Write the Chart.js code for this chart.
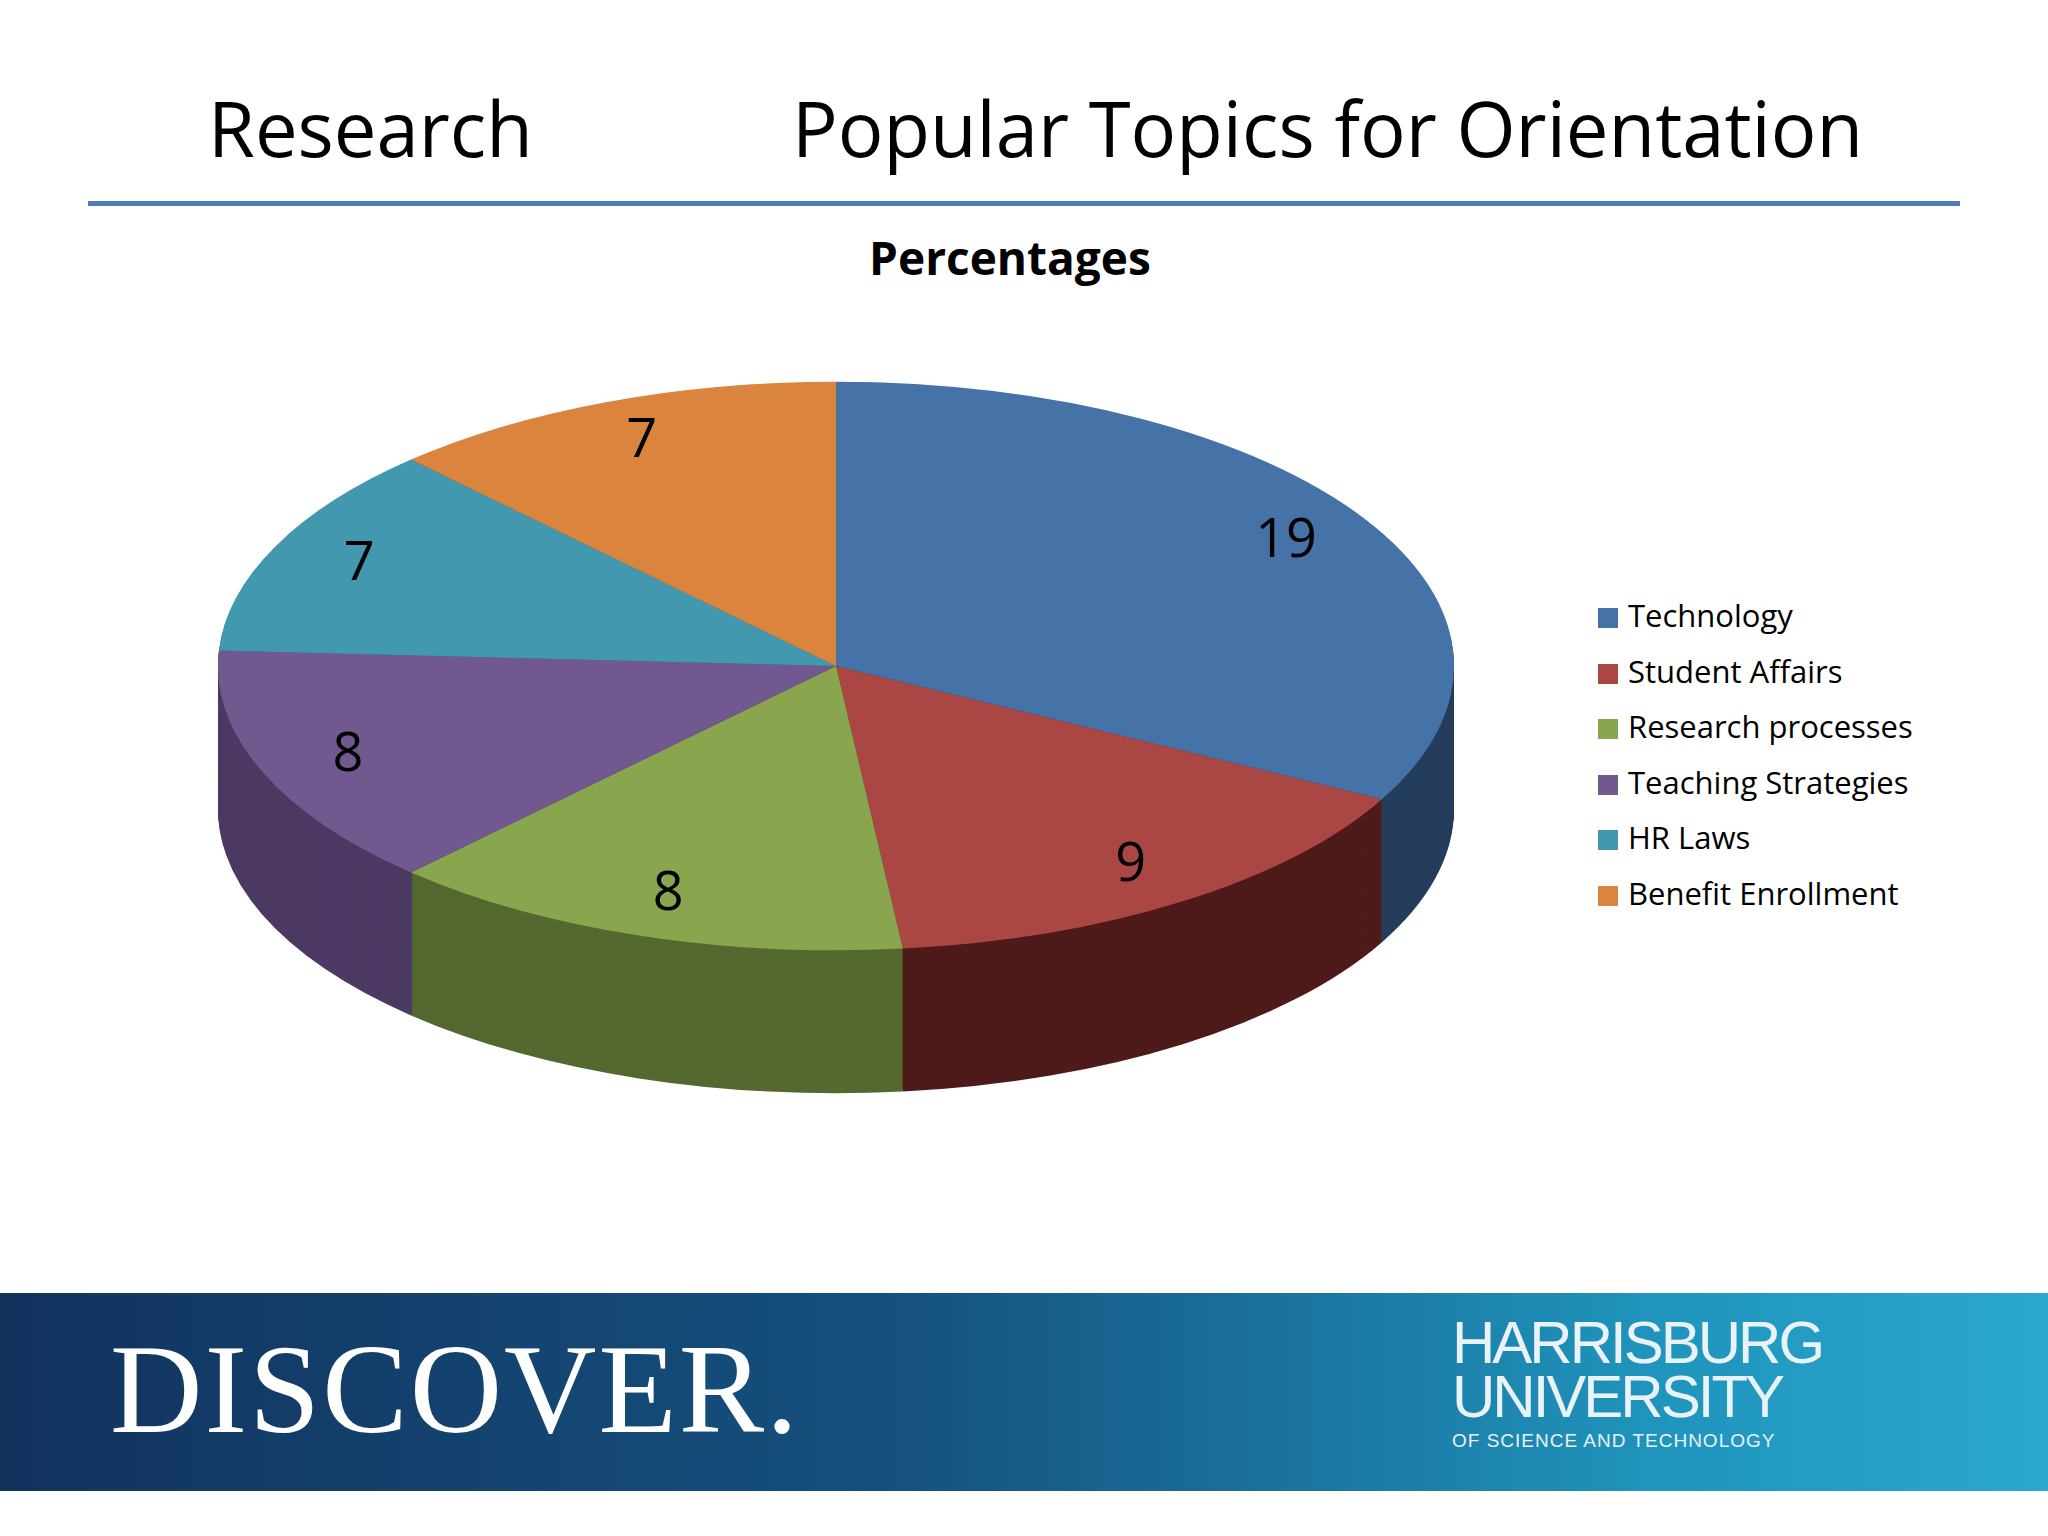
<!DOCTYPE html>
<html><head><meta charset="utf-8">
<script src="https://cdn.jsdelivr.net/npm/chart.js@4/dist/chart.umd.min.js"></script>
<style>
body{margin:0;width:2048px;height:1536px;background:#fff;position:relative;overflow:hidden;font-family:"Open Sans","Noto Sans",sans-serif}
.t{position:absolute;top:76px;font-size:76px;color:#000}
#line{position:absolute;left:88px;top:201px;width:1872px;height:5px;background:#4A7EBB}
#sub{position:absolute;top:226px;left:0;width:2020px;text-align:center;font-size:46px;font-weight:bold}
#c{position:absolute;left:216px;top:46px}
#legend{position:absolute;left:1598px;top:588px;font-size:31px;line-height:55.5px}
#legend span{display:inline-block;width:20px;height:20px;margin-right:10px;vertical-align:-1px}
#band{position:absolute;left:0;top:1293px;width:2048px;height:198px;background:linear-gradient(90deg,#12325e 0%,#15527f 45%,#1f93bb 80%,#2aa8cf 100%)}
#disc{position:absolute;left:110px;top:1316px;font-family:"Liberation Serif",serif;font-size:128px;color:#fff;letter-spacing:2px}
#hu{position:absolute;left:1452px;top:1316px;color:#e8f2f7;font-size:60px;line-height:54px;letter-spacing:-3px;font-family:"Liberation Sans Narrow","Liberation Sans",sans-serif}
#hu small{font-size:19px;letter-spacing:1px;line-height:34px;display:block}
</style></head><body>
<div class="t" style="left:208px">Research</div>
<div class="t" style="left:792px">Popular Topics for Orientation</div>
<div id="line"></div>
<div id="sub">Percentages</div>
<canvas id="c" width="1240" height="1240" style="width:1240px;height:1240px"></canvas>
<div id="legend"></div>
<div id="band"></div>
<div id="disc">DISCOVER.</div>
<div id="hu">HARRISBURG<br>UNIVERSITY<small>OF SCIENCE AND TECHNOLOGY</small></div>
<script>
const categories = ["Technology", "Student Affairs", "Research processes", "Teaching Strategies", "HR Laws", "Benefit Enrollment"];
const values = [19, 9, 8, 8, 7, 7];
const colors = ["#4572A7", "#AA4643", "#89A54E", "#71588F", "#4198AF", "#DB843D"];
const sideColors = ["#253d5c", "#4e1b1a", "#55682f", "#4d3a63", "#2a6678", "#8f5225"];

const K = 0.46;
const DEPTH = 143;

document.getElementById("legend").innerHTML = categories.map((c, i) =>
  `<div><span style="background:${colors[i]}"></span>${c}</div>`).join("");

const squash = {
  id: "squash",
  beforeDatasetsDraw(chart) {
    const ctx = chart.ctx;
    const arcs = chart.getDatasetMeta(0).data;
    const cy = arcs[0].y;
    ctx.save();
    ctx.translate(0, cy);
    ctx.scale(1, K);
    ctx.translate(0, -cy);
    // extruded side walls
    for (let d = DEPTH / K; d > 0; d -= 3) {
      arcs.forEach((a, i) => {
        ctx.beginPath();
        ctx.moveTo(a.x, a.y + d);
        ctx.arc(a.x, a.y + d, a.outerRadius, a.startAngle, a.endAngle);
        ctx.closePath();
        ctx.fillStyle = sideColors[i];
        ctx.fill();
      });
    }
  },
  afterDatasetsDraw(chart) {
    const ctx = chart.ctx;
    ctx.restore();
    const arcs = chart.getDatasetMeta(0).data;
    ctx.font = "54px 'Open Sans', sans-serif";
    ctx.fillStyle = "#000";
    ctx.textAlign = "center";
    ctx.textBaseline = "middle";
    arcs.forEach((a, i) => {
      const m = (a.startAngle + a.endAngle) / 2;
      const r = a.outerRadius * 0.85;
      ctx.fillText(values[i], a.x + Math.cos(m) * r, a.y + Math.sin(m) * r * K);
    });
  }
};

new Chart(document.getElementById("c"), {
  type: "pie",
  data: {
    labels: categories,
    datasets: [{ data: values, backgroundColor: colors, borderWidth: 0 }]
  },
  options: {
    responsive: false,
    animation: false,
    layout: { padding: 2 },
    plugins: { legend: { display: false }, tooltip: { enabled: false } }
  },
  plugins: [squash]
});
</script>
</body></html>
